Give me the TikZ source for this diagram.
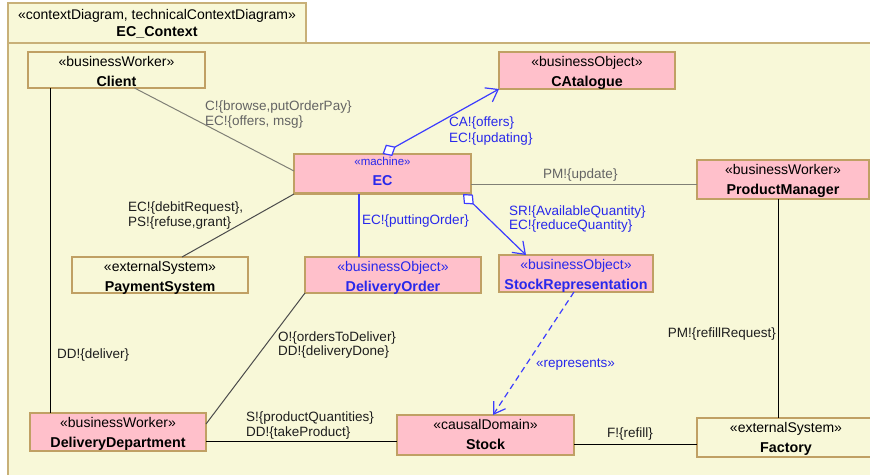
\documentclass[tikz,border=0pt]{standalone}
\usepackage{fontspec}
\setmainfont{Liberation Sans}
\usetikzlibrary{arrows.meta,calc,fit}

\definecolor{frameBg}{RGB}{248,248,216}
\definecolor{frameLine}{RGB}{200,176,120}
\definecolor{boxLine}{RGB}{192,160,100}
\definecolor{pinkFill}{RGB}{255,192,203}
\definecolor{umlBlue}{RGB}{40,40,235}
\definecolor{lineBlue}{RGB}{60,60,255}
\definecolor{grayLine}{RGB}{128,128,118}
\definecolor{grayText}{RGB}{100,100,100}
\definecolor{darkText}{RGB}{30,30,30}

\tikzset{
  wbox/.style={draw=boxLine, line width=1.3pt, fill=frameBg, inner sep=0pt, outer sep=0pt},
  pbox/.style={draw=boxLine, line width=1.3pt, fill=pinkFill, inner sep=0pt, outer sep=0pt},
  sttext/.style={font=\fontsize{14}{16}\selectfont, inner sep=0pt, anchor=base},
  nmtext/.style={font=\fontsize{14.3}{16}\selectfont\bfseries, inner sep=0pt, anchor=base},
  lab/.style={font=\fontsize{13.5}{15}\selectfont, inner sep=0pt, anchor=base west, text=darkText},
  assoc/.style={line width=1pt, draw=black},
  grayassoc/.style={line width=1pt, draw=grayLine},
  darkassoc/.style={line width=1pt, draw=darkText!80!white},
  blueassoc/.style={line width=1.2pt, draw=lineBlue},
  ownsarrow/.style={blueassoc, arrows={Diamond[fill=white,length=15pt,width=13pt]-Straight Barb[length=11pt,width=16pt]}},
  reparrow/.style={blueassoc, dash pattern=on 6pt off 4pt, arrows={-Straight Barb[length=11pt,width=14pt]}},
}

% box with a stereotype line and a bold name line
\newcommand\umlbox[9]{%
  \node[#6, fit={(#2,#3) (#4,#5)}] (#1) {};
  \node[sttext, text=#7] (#1-st) at ($(#1.north)+(0,14.5)$) {#8};
  \node[nmtext, text=#7] (#1-nm) at ($(#1.north)+(0,34)$) {#9};
}

\begin{document}
\begin{tikzpicture}[x=1pt, y=-1pt]
\useasboundingbox (0,0) rectangle (870,474);
\fill[white] (0,0) rectangle (870,474);
\clip (0,0) rectangle (870,474);

% package frame
\node[draw=frameLine, fill=frameBg, line width=1.3pt, inner sep=0pt, fit={(8,43) (890,494)}] (body) {};
\node[draw=frameLine, fill=frameBg, line width=1.3pt, inner sep=0pt, fit={(8,3) (306,43)}] (tab) {};
\node[sttext] (tab-st) at (157,19) {«contextDiagram, technicalContextDiagram»};
\node[nmtext] (tab-nm) at (157,36) {EC\_Context};

% domains
\umlbox{client}{28}{52}{205}{88}{wbox}{black}{«businessWorker»}{Client}
\umlbox{cat}{499}{52}{675}{89}{pbox}{black}{«businessObject»}{CAtalogue}
\umlbox{pm}{697}{160}{869}{199}{pbox}{black}{«businessWorker»}{ProductManager}
\umlbox{pay}{72}{257}{248}{293}{wbox}{black}{«externalSystem»}{PaymentSystem}
\umlbox{do}{305}{257}{481}{293}{pbox}{umlBlue}{«businessObject»}{DeliveryOrder}
\umlbox{sr}{499}{255}{653}{292}{pbox}{umlBlue}{«businessObject»}{StockRepresentation}
\umlbox{dd}{30}{413}{206}{451}{pbox}{black}{«businessWorker»}{DeliveryDepartment}
\umlbox{stock}{397}{415}{574}{455}{pbox}{black}{«causalDomain»}{Stock}
\umlbox{factory}{697}{418}{875}{457}{wbox}{black}{«externalSystem»}{Factory}

% the machine
\node[pbox, fit={(294,154) (471,194)}] (ec) {};
\draw[boxLine, line width=2.6pt] ($(ec.south west)+(0,-0.6)$) -- ($(ec.south east)+(0,-0.6)$);
\node[font=\fontsize{11.5}{13}\selectfont, text=umlBlue, inner sep=0pt, anchor=base] (ec-st) at ($(ec.north)+(0,11)$) {«machine»};
\node[nmtext, text=umlBlue] (ec-nm) at ($(ec.north)+(0,31)$) {EC};

% connectors
\draw[grayassoc] ($(client.south)+(18,0)$) -- ($(ec.north west)+(0,17)$);
\draw[ownsarrow] (ec.north) -- (cat.south west);
\draw[grayassoc] ($(ec.south east)+(0,-10)$) -- ($(pm.south west)+(0,-15)$);
\draw[darkassoc] (ec.south west) -- ($(pay.north west)+(110,0)$);
\draw[blueassoc] ($(ec.south west)+(65,0)$) -- ($(do.north west)+(54,0)$);
\draw[ownsarrow] ($(ec.south east)+(-8,0)$) -- ($(sr.north west)+(27,0)$);
\draw[assoc] ($(pm.south west)+(81,0)$) -- ($(factory.north west)+(81,0)$);
\draw[reparrow] ($(sr.south west)+(75,0)$) -- ($(stock.north west)+(96,0)$);
\draw[darkassoc] (do.south west) -- ($(dd.north east)+(0,11)$);
\draw[assoc] ($(client.south west)+(22,0)$) -- ($(dd.north west)+(20,0)$);
\draw[assoc] ($(dd.north east)+(0,28)$) -- ($(stock.north west)+(0,26)$);
\draw[assoc] ($(stock.north east)+(0,29)$) -- ($(factory.north west)+(0,26)$);

% connector labels
\node[lab, text=grayText] (l1a) at (205,110) {C!\{browse,putOrderPay\}};
\node[lab, text=grayText] (l1b) at (205,125) {EC!\{offers, msg\}};
\node[lab, text=umlBlue] (l2a) at (449,126) {CA!\{offers\}};
\node[lab, text=umlBlue] (l2b) at (449,142) {EC!\{updating\}};
\node[lab, text=grayText] (l3) at (543,178) {PM!\{update\}};
\node[lab] (l4a) at (128,211) {EC!\{debitRequest\},};
\node[lab] (l4b) at (128,226) {PS!\{refuse,grant\}};
\node[lab, text=umlBlue] (l5) at (362,224) {EC!\{puttingOrder\}};
\node[lab, text=umlBlue] (l6a) at (509,215) {SR!\{AvailableQuantity\}};
\node[lab, text=umlBlue] (l6b) at (509,229) {EC!\{reduceQuantity\}};
\node[lab, anchor=base east] (l7) at (776,337) {PM!\{refillRequest\}};
\node[lab, text=umlBlue] (l8) at (536,367) {«represents»};
\node[lab] (l9a) at (278,341) {O!\{ordersToDeliver\}};
\node[lab] (l9b) at (278,355) {DD!\{deliveryDone\}};
\node[lab] (l10) at (57,358) {DD!\{deliver\}};
\node[lab] (l11a) at (246,421) {S!\{productQuantities\}};
\node[lab] (l11b) at (246,436) {DD!\{takeProduct\}};
\node[lab] (l12) at (607,437) {F!\{refill\}};
\end{tikzpicture}
\end{document}
